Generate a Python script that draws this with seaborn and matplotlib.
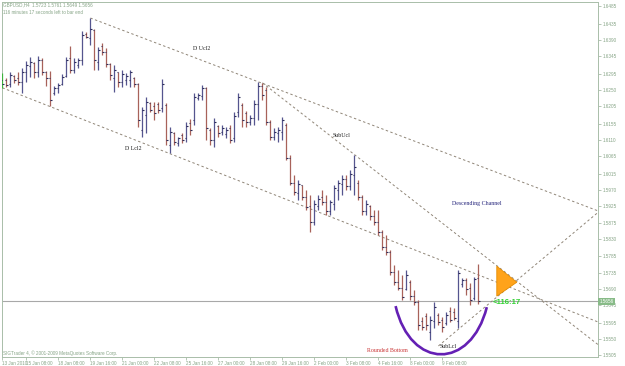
import numpy as np
import pandas as pd
import seaborn as sns
import matplotlib.pyplot as plt
from matplotlib.path import Path
from matplotlib.patches import PathPatch, Polygon

# GBPUSD H4 bars, oldest first
opens = [1.6278, 1.6278, 1.6267, 1.6289, 1.6284, 1.6273, 1.6301, 1.6318, 1.6326, 1.6301,
         1.6334, 1.6301, 1.6284, 1.6242, 1.6256, 1.6267, 1.6289, 1.6340, 1.6306, 1.6320,
         1.6334, 1.6408, 1.6396, 1.6419, 1.6329, 1.6374, 1.6357, 1.6323, 1.6284, 1.6301,
         1.6273, 1.6278, 1.6278, 1.6284, 1.6267, 1.6138, 1.6180, 1.6214, 1.6205, 1.6211,
         1.6200, 1.6208, 1.6095, 1.6129, 1.6101, 1.6124, 1.6115, 1.6157, 1.6166, 1.6228,
         1.6233, 1.6256, 1.6138, 1.6110, 1.6149, 1.6132, 1.6126, 1.6143, 1.6115, 1.6188,
         1.6208, 1.6185, 1.6160, 1.6171, 1.6211, 1.6261, 1.6250, 1.6160, 1.6118, 1.6129,
         1.6132, 1.6152, 1.6060, 1.5990, 1.5960, 1.5983, 1.5950, 1.5925, 1.5880, 1.5925,
         1.5950, 1.5935, 1.5910, 1.5930, 1.5970, 1.5985, 1.6000, 1.5980, 1.6010, 1.5990,
         1.5950, 1.5910, 1.5925, 1.5895, 1.5880, 1.5850, 1.5810, 1.5795, 1.5740, 1.5710,
         1.5695, 1.5692, 1.5710, 1.5670, 1.5655, 1.5600, 1.5615, 1.5570, 1.5600, 1.5618,
         1.5605, 1.5595, 1.5630, 1.5625, 1.5600, 1.5705, 1.5715, 1.5695, 1.5665, 1.5723]
highs = [1.6298, 1.6284, 1.6301, 1.6292, 1.6301, 1.6312, 1.6332, 1.6343, 1.6329, 1.6346,
         1.6340, 1.6303, 1.6303, 1.6261, 1.6270, 1.6295, 1.6343, 1.6374, 1.6340, 1.6340,
         1.6416, 1.6413, 1.6452, 1.6421, 1.6371, 1.6382, 1.6368, 1.6326, 1.6320, 1.6301,
         1.6306, 1.6298, 1.6306, 1.6287, 1.6270, 1.6202, 1.6230, 1.6216, 1.6216, 1.6216,
         1.6281, 1.6214, 1.6146, 1.6132, 1.6118, 1.6129, 1.6160, 1.6169, 1.6242, 1.6242,
         1.6264, 1.6259, 1.6143, 1.6171, 1.6152, 1.6152, 1.6146, 1.6152, 1.6188, 1.6242,
         1.6214, 1.6191, 1.6180, 1.6222, 1.6273, 1.6270, 1.6259, 1.6166, 1.6143, 1.6146,
         1.6174, 1.6157, 1.6067, 1.6011, 1.5997, 1.5983, 1.5969, 1.5955, 1.5941, 1.5955,
         1.5969, 1.5955, 1.5941, 1.5983, 1.5997, 1.6011, 1.6011, 1.6025, 1.6067, 1.5997,
         1.5955, 1.5941, 1.5927, 1.5913, 1.5913, 1.5857, 1.5843, 1.5801, 1.5758, 1.5744,
         1.5730, 1.5744, 1.5716, 1.5688, 1.5660, 1.5612, 1.5623, 1.5615, 1.5654, 1.5623,
         1.5612, 1.5626, 1.5640, 1.5637, 1.5744, 1.5722, 1.5722, 1.5708, 1.5725, 1.5761]
lows = [1.6256, 1.6259, 1.6259, 1.6270, 1.6264, 1.6242, 1.6273, 1.6287, 1.6284, 1.6287,
        1.6292, 1.6261, 1.6205, 1.6236, 1.6242, 1.6264, 1.6287, 1.6298, 1.6298, 1.6312,
        1.6320, 1.6396, 1.6377, 1.6306, 1.6306, 1.6348, 1.6315, 1.6278, 1.6244, 1.6259,
        1.6259, 1.6264, 1.6259, 1.6259, 1.6146, 1.6118, 1.6129, 1.6188, 1.6166, 1.6185,
        1.6188, 1.6095, 1.6073, 1.6095, 1.6093, 1.6101, 1.6104, 1.6124, 1.6152, 1.6222,
        1.6222, 1.6110, 1.6095, 1.6090, 1.6118, 1.6124, 1.6115, 1.6101, 1.6104, 1.6174,
        1.6146, 1.6146, 1.6152, 1.6152, 1.6166, 1.6222, 1.6152, 1.6110, 1.6110, 1.6104,
        1.6110, 1.6053, 1.5983, 1.5955, 1.5941, 1.5941, 1.5913, 1.5851, 1.5870, 1.5913,
        1.5927, 1.5899, 1.5899, 1.5913, 1.5941, 1.5955, 1.5969, 1.5969, 1.5955, 1.5941,
        1.5899, 1.5899, 1.5885, 1.5871, 1.5843, 1.5801, 1.5786, 1.5730, 1.5702, 1.5688,
        1.5660, 1.5688, 1.5660, 1.5646, 1.5576, 1.5576, 1.5576, 1.5548, 1.5581, 1.5590,
        1.5570, 1.5590, 1.5598, 1.5604, 1.5581, 1.5697, 1.5674, 1.5646, 1.5660, 1.5649]
closes = [1.6267, 1.6264, 1.6292, 1.6278, 1.6273, 1.6301, 1.6320, 1.6329, 1.6301, 1.6334,
          1.6301, 1.6284, 1.6222, 1.6256, 1.6264, 1.6287, 1.6334, 1.6306, 1.6329, 1.6334,
          1.6405, 1.6398, 1.6421, 1.6334, 1.6363, 1.6357, 1.6323, 1.6292, 1.6306, 1.6273,
          1.6295, 1.6289, 1.6301, 1.6267, 1.6166, 1.6194, 1.6216, 1.6194, 1.6185, 1.6194,
          1.6267, 1.6110, 1.6132, 1.6104, 1.6115, 1.6110, 1.6149, 1.6138, 1.6230, 1.6236,
          1.6256, 1.6143, 1.6110, 1.6160, 1.6129, 1.6143, 1.6138, 1.6110, 1.6177, 1.6230,
          1.6166, 1.6160, 1.6171, 1.6211, 1.6261, 1.6236, 1.6160, 1.6118, 1.6132, 1.6138,
          1.6166, 1.6060, 1.5990, 1.5962, 1.5985, 1.5950, 1.5920, 1.5880, 1.5930, 1.5945,
          1.5935, 1.5910, 1.5935, 1.5975, 1.5990, 1.6000, 1.5980, 1.6015, 1.6035, 1.5950,
          1.5910, 1.5930, 1.5895, 1.5880, 1.5850, 1.5810, 1.5795, 1.5740, 1.5710, 1.5695,
          1.5668, 1.5730, 1.5670, 1.5655, 1.5590, 1.5585, 1.5590, 1.5605, 1.5640, 1.5598,
          1.5585, 1.5618, 1.5605, 1.5610, 1.5735, 1.5715, 1.5690, 1.5660, 1.5720, 1.5656]

date_ticks = [0, 6, 14, 22, 30, 38, 46, 54, 62, 70, 78, 86, 94, 102, 110]
date_labels = ["13 Jan 2010", "15 Jan 08:00", "18 Jan 08:00", "19 Jan 16:00", "21 Jan 00:00",
               "22 Jan 08:00", "25 Jan 16:00", "27 Jan 00:00", "28 Jan 08:00", "29 Jan 16:00",
               "2 Feb 00:00", "3 Feb 08:00", "4 Feb 16:00", "8 Feb 00:00", "9 Feb 08:00"]
price_ticks = [1.6485, 1.6435, 1.6390, 1.6345, 1.6295, 1.6250, 1.6205, 1.6155, 1.6110,
               1.6065, 1.6015, 1.5970, 1.5925, 1.5875, 1.5830, 1.5785, 1.5735, 1.5690,
               1.5645, 1.5595, 1.5550, 1.5505]

# trendlines (bar index, price)
ucl_x, ucl_y = [22, 149], [1.6452, 1.5910]
lcl_x, lcl_y = [0, 149], [1.6256, 1.5598]
subucl_x, subucl_y = [65, 149], [1.6270, 1.5534]
sublcl_x, sublcl_y = [109, 149], [1.5531, 1.5907]

# rounded bottom arc and triangle objects
arc_x = [98.3, 102.1, 117.1, 121.1]
arc_y = [1.5643, 1.5463, 1.5463, 1.5640]
tri_x = [123.6, 123.6, 128.6]
tri_y = [1.5755, 1.5671, 1.5710]

df = pd.DataFrame({'open': opens, 'high': highs, 'low': lows, 'close': closes})
df['bar'] = np.arange(len(df))
up_col, dn_col = '#55558f', '#a8625a'
df['color'] = np.where(df['close'] >= df['open'], up_col, dn_col)
df.loc[0, 'color'] = '#3cb43c'

sns.set_theme(style='white')
plt.rcParams['font.family'] = ['Liberation Sans', 'DejaVu Sans']
grey_green = '#86a486'

fig = plt.figure(figsize=(6.25, 3.66), dpi=100)
ax = fig.add_axes([2/625, 9/366, 596/625, 355/366])
ax.set_xlim(-0.1, 148.9)
ax.set_ylim(1.5500, 1.6497)

# bars
ax.vlines(df['bar'], df['low'], df['high'], colors=df['color'], lw=0.9, zorder=3)
ax.hlines(df['open'], df['bar'] - 0.4, df['bar'], colors='#2e2e5a', lw=0.8, zorder=4)
ax.hlines(df['close'], df['bar'], df['bar'] + 0.4, colors='#2e2e5a', lw=0.8, zorder=4)

# bid line
ax.axhline(closes[-1], color='#a8a8a8', lw=0.8, zorder=1)

# trendlines
for lx, ly in [(ucl_x, ucl_y), (lcl_x, lcl_y), (subucl_x, subucl_y), (sublcl_x, sublcl_y)]:
    sns.lineplot(x=lx, y=ly, ax=ax, color='#8f8577', lw=0.7, linestyle=(0, (2.5, 2.5)), zorder=2)

arc = Path(list(zip(arc_x, arc_y)), [Path.MOVETO, Path.CURVE4, Path.CURVE4, Path.CURVE4])
ax.add_patch(PathPatch(arc, fill=False, edgecolor='#6420b4', lw=1.9, zorder=5))
ax.add_patch(Polygon(list(zip(tri_x, tri_y)), closed=True, facecolor='#ffa31a',
                     edgecolor='#e58c00', lw=0.6, zorder=5))

# axes look
for s in ax.spines.values():
    s.set_color('#a9bda9')
    s.set_linewidth(0.7)
ax.yaxis.tick_right()
ax.set_yticks(price_ticks)
ax.set_yticklabels([f"{p:.4f}" for p in price_ticks])
ax.set_xticks(date_ticks)
ax.set_xticklabels(date_labels, ha='left')
ax.tick_params(axis='y', right=True, length=2, width=0.6, color='#a9bda9',
               labelsize=3.3, labelcolor=grey_green, pad=1.5)
ax.tick_params(axis='x', bottom=True, length=2, width=0.6, color='#a9bda9',
               labelsize=3.3, labelcolor=grey_green, pad=0.8)
ax.set_xlabel('')
ax.set_ylabel('')
ax.grid(False)

ax.text(1.002, closes[-1], f"{closes[-1]:.4f}", transform=ax.get_yaxis_transform(),
        ha='left', va='center', fontsize=3.3, color='white', zorder=10, clip_on=False,
        bbox=dict(boxstyle='square,pad=0.25', fc='#88bb88', ec='none'))

# header and footer
fig.text(3/625, 1 - 5/366, f"GBPUSD,H4  {opens[-1]:.4f} {highs[-1]:.4f} {lows[-1]:.4f} {closes[-1]:.4f}",
         fontsize=3.3, color=grey_green, va='center')
fig.text(3/625, 1 - 13/366, "116 minutes 17 seconds left to bar end",
         fontsize=3.3, color=grey_green, va='center')
fig.text(3/625, 1 - 353/366, "SIGTrader 4, \u00a9 2001-2009 MetaQuotes Software Corp.",
         fontsize=3.3, color=grey_green, va='center')

# object labels
serif = ['Liberation Serif', 'DejaVu Serif']
for txt, px, py, col in [("D Ucl2", 193, 48, '#202020'), ("D Lcl2", 125, 148, '#202020'),
                         ("SubUcl", 333, 135, '#202020'), ("Descending Channel", 452, 204, '#23237a'),
                         ("Rounded Bottom", 367, 350, '#c83030'), ("SubLcl", 440, 346, '#202020')]:
    fig.text(px/625, 1 - py/366, txt, fontsize=4.2, family=serif, color=col, va='center')
fig.text(493/625, 1 - 303/366, "<116:17", fontsize=5.6, fontweight='bold',
         color='#2fd12f', va='center')

fig.savefig('out.png', dpi=100)
